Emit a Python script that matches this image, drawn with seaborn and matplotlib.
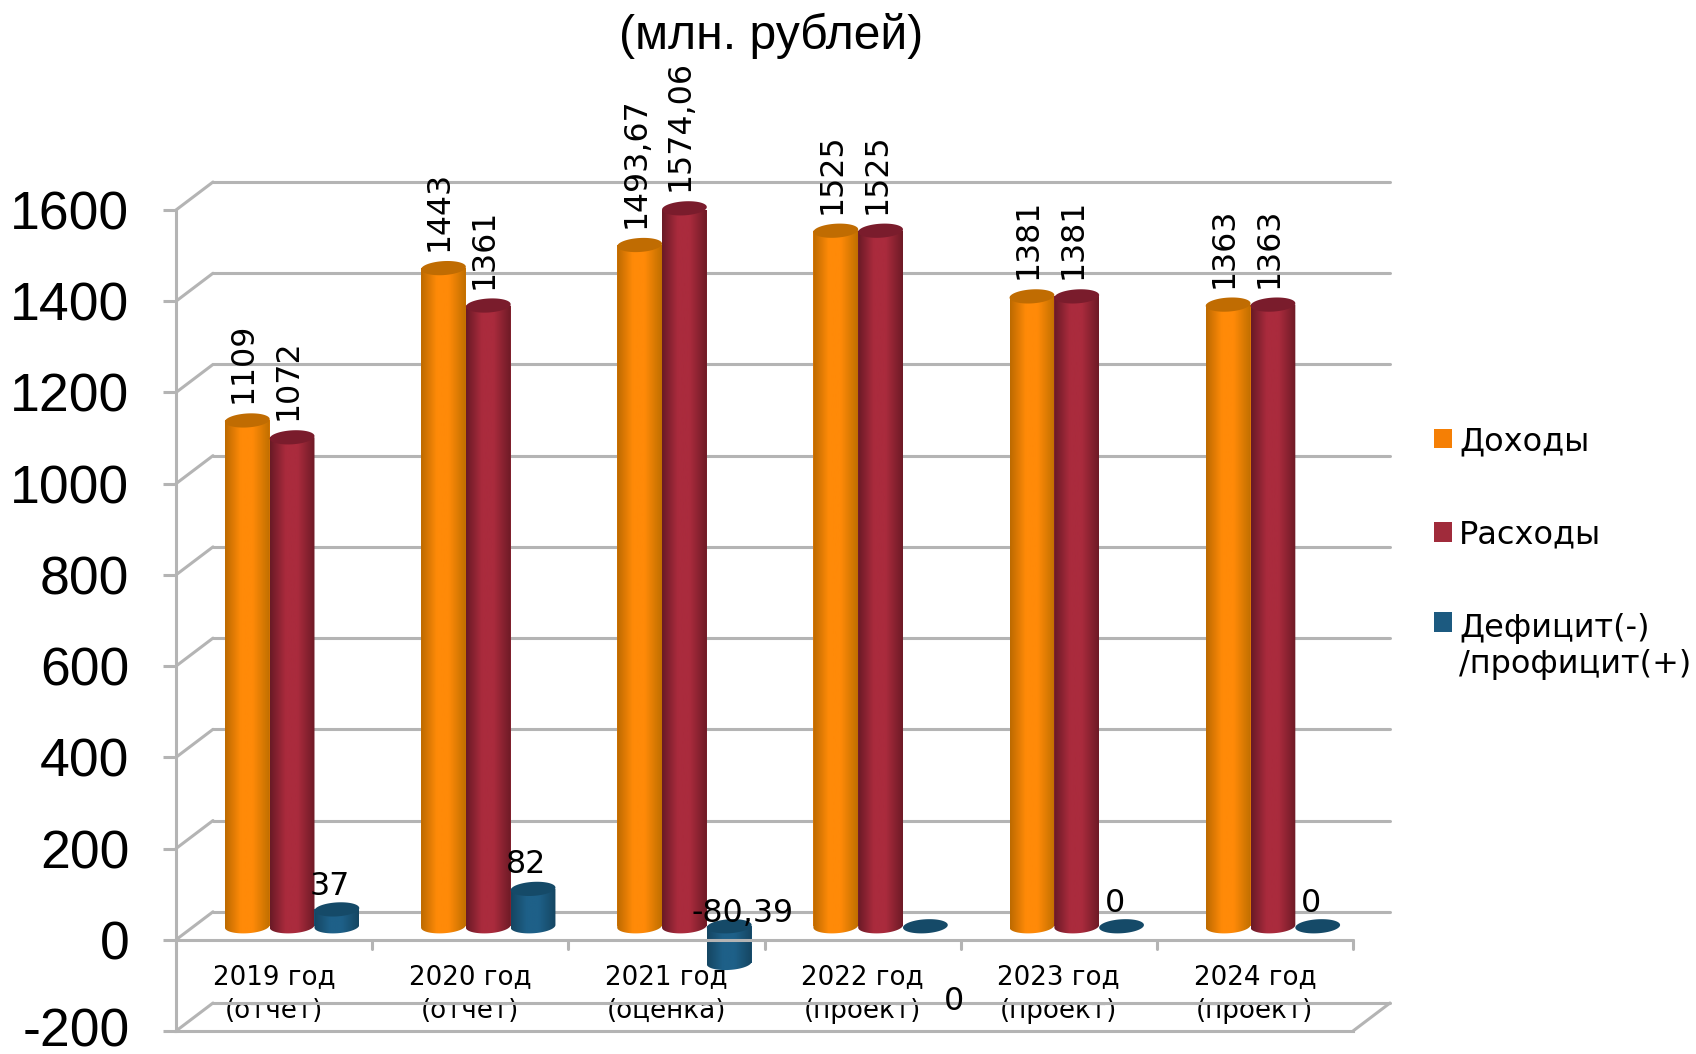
import numpy as np
import pandas as pd
import seaborn as sns
import matplotlib
matplotlib.use("Agg")
import matplotlib.pyplot as plt
from matplotlib.patches import Polygon
from matplotlib.transforms import Affine2D
from matplotlib.colors import to_rgb

# ---- data ----
categories = ["2019 год\n(отчет)", "2020 год\n(отчет)", "2021 год\n(оценка)",
              "2022 год\n(проект)", "2023 год\n(проект)", "2024 год\n(проект)"]
series_names = ["Доходы", "Расходы", "Дефицит(-)\n/профицит(+)"]
income = [1109, 1443, 1493.67, 1525, 1381, 1363]
expense = [1072, 1361, 1574.06, 1525, 1381, 1363]
balance = [37, 82, -80.39, 0, 0, 0]
income_labels = ["1109", "1443", "1493,67", "1525", "1381", "1363"]
expense_labels = ["1072", "1361", "1574,06", "1525", "1381", "1363"]
balance_labels = ["37", "82", "-80,39", "0", "0", "0"]
y_ticks = [-200, 0, 200, 400, 600, 800, 1000, 1200, 1400, 1600]
title_text = "(млн. рублей)"

# ---- style ----
W, H = 1696, 1054
GRID = "#b4b4b4"
palette = ["#f57f05", "#a02b3b", "#1c5a80"]
shades = [("#bd6a00", "#ff8a08", "#c06f00", "#c06c02"),
          ("#6a1a26", "#aa2b3d", "#6e1a26", "#7a1c2c"),
          ("#154662", "#1e6088", "#154662", "#154a68")]
group_width = 0.685

sns.set_theme(style="white")
plt.rcParams["font.family"] = ["DejaVu Sans"]
fig = plt.figure(figsize=(W / 100, H / 100), dpi=100, facecolor="white")
ax = fig.add_axes([176 / W, 1 - 1031 / H, (1353 - 176) / W, (1031 - 210) / H])

df = pd.DataFrame({
    "period": categories * 3,
    "series": np.repeat(series_names, len(categories)),
    "value": income + expense + balance,
})
sns.barplot(data=df, x="period", y="value", hue="series", hue_order=series_names,
            order=categories, palette=palette, saturation=1, width=group_width, gap=0,
            errorbar=None, ax=ax, linewidth=0, zorder=2)
ax.set_xlim(-0.5, 5.5)
ax.set_ylim(-200, 1600)
ax.patch.set_alpha(0)
ax.set_xlabel("")
ax.set_ylabel("")

px_x = (1353 - 176) / 6          # pixels per category
px_y = (1031 - 210) / 1800       # pixels per value unit
off = ax.transData + Affine2D().translate(18, 13.5)   # bars stand right of / above the front plane

# ---- walls ----
dx, dv = 37 / px_x, 28 / px_y
xl, xr = -0.5, 5.5
line = dict(color=GRID, lw=2.2, clip_on=False, solid_capstyle="round")
for v in y_ticks:
    ax.plot([xl + dx, xr + dx], [v + dv, v + dv], zorder=1, **line)
    ax.plot([xl, xl + dx], [v, v + dv], zorder=1, **line)
ax.plot([xr, xr + dx], [-200, -200 + dv], zorder=1, **line)
ax.plot([xl, xr], [0, 0], zorder=40, **line)
for k in range(7):
    ax.plot([xl + k, xl + k], [0, -20], zorder=40, **line)

for s in ["top", "right"]:
    ax.spines[s].set_visible(False)
for s in ["left", "bottom"]:
    ax.spines[s].set_color(GRID)
    ax.spines[s].set_linewidth(2.2)

ax.set_yticks(y_ticks)
ax.set_yticklabels([str(v) for v in y_ticks], fontsize=38.5, family="Liberation Sans", color="black")
ax.tick_params(axis="y", length=9.5, width=2.2, color=GRID, pad=24, left=True)
ax.set_xticks(range(6))
ax.set_xticklabels(categories, fontsize=18.8, color="black", linespacing=1.38, zorder=50)
ax.tick_params(axis="x", length=0, pad=-48, bottom=False)
low_label = ax.get_yticklabels()[0]
low_label.set_transform(low_label.get_transform() + Affine2D().translate(0, 4))

# ---- cylinders ----
half_w = group_width / 3 / 2
half_h = 7.0 / px_y
tilt = 1.3 / px_y
t_full = np.linspace(0, 2 * np.pi, 73)
t_low = np.linspace(np.pi, 2 * np.pi, 37)


def ell(cx, cy, t):
    return np.column_stack([cx + half_w * np.cos(t),
                            cy + half_h * np.sin(t) + tilt * np.cos(t)])


z = 3.0
for cat in range(6):
    for s_idx, container in enumerate(ax.containers):
        bar = container[cat]
        bar.set_transform(off)
        bar.set_zorder(z)
        x0 = bar.get_x()
        w = bar.get_width()
        cx = x0 + w / 2
        v = df["value"].iloc[s_idx * 6 + cat]
        top, bot = max(v, 0), min(v, 0)
        left_c, mid_c, right_c, cap_c = shades[s_idx]
        if v != 0:
            stops = [0, 0.35, 0.62, 1]
            cols = [to_rgb(left_c), to_rgb(mid_c), to_rgb(mid_c), to_rgb(right_c)]
            pos = np.linspace(0, 1, 64)
            grad = np.stack([np.interp(pos, stops, [c[i] for c in cols]) for i in range(3)], axis=-1)[None, :, :]
            im = ax.imshow(grad, extent=(x0, x0 + w, bot - half_h * 1.4, top), aspect="auto",
                           interpolation="bilinear", zorder=z + 0.1, origin="lower")
            im.set_transform(off)
            pts = np.vstack([[cx - half_w, top], ell(cx, bot, t_low), [cx + half_w, top]])
            clip = Polygon(pts, closed=True, transform=off)
            im.set_clip_path(clip)
        ax.add_patch(Polygon(ell(cx, top, t_full), closed=True, facecolor=cap_c, edgecolor="none",
                             transform=off, zorder=z + 0.2, clip_on=False))
        z += 1

ax.set_xlim(-0.5, 5.5)
ax.set_ylim(-200, 1600)

# ---- data labels ----
label_size = 22.8
for s_idx, labels in enumerate([income_labels, expense_labels]):
    for cat, text in enumerate(labels):
        bar = ax.containers[s_idx][cat]
        cx = bar.get_x() + bar.get_width() / 2
        ax.text(cx - 4 / px_x, bar.get_height() + 17 / px_y, text, rotation=90, ha="center", va="bottom",
                fontsize=label_size, color="black", transform=off, zorder=60, clip_on=False)

balance_shift = [(-7, 23), (-7, 24), (13, 13), (29, -75), (-7, 23), (-7, 23)]
for cat, text in enumerate(balance_labels):
    bar = ax.containers[2][cat]
    cx = bar.get_x() + bar.get_width() / 2
    sx, sy = balance_shift[cat]
    ax.text(cx + sx / px_x, max(balance[cat], 0) + sy / px_y, text, ha="center", va="center",
            fontsize=label_size, color="black", transform=off, zorder=60, clip_on=False)

# ---- title & legend ----
fig.text(771 / W, 1 - 36 / H, title_text, ha="center", va="center", fontsize=34.6,
         family="Liberation Sans", color="black")

sns.move_legend(ax, "upper left", bbox_to_anchor=(1434 / W, 1 - 426 / H), bbox_transform=fig.transFigure,
                title=None, frameon=False, fontsize=23, labelspacing=1.95, handlelength=0.5625,
                handleheight=0.5625, handletextpad=0.22, borderpad=0, borderaxespad=0)
leg = ax.get_legend()
leg.set_zorder(70)
for t in leg.get_texts():
    t.set_linespacing(1.24)
    t.set_color("black")
hd = leg.legend_handles[2]
hd.set_y(hd.get_y() + 18)

fig.savefig("out.png", dpi=100, facecolor="white")
